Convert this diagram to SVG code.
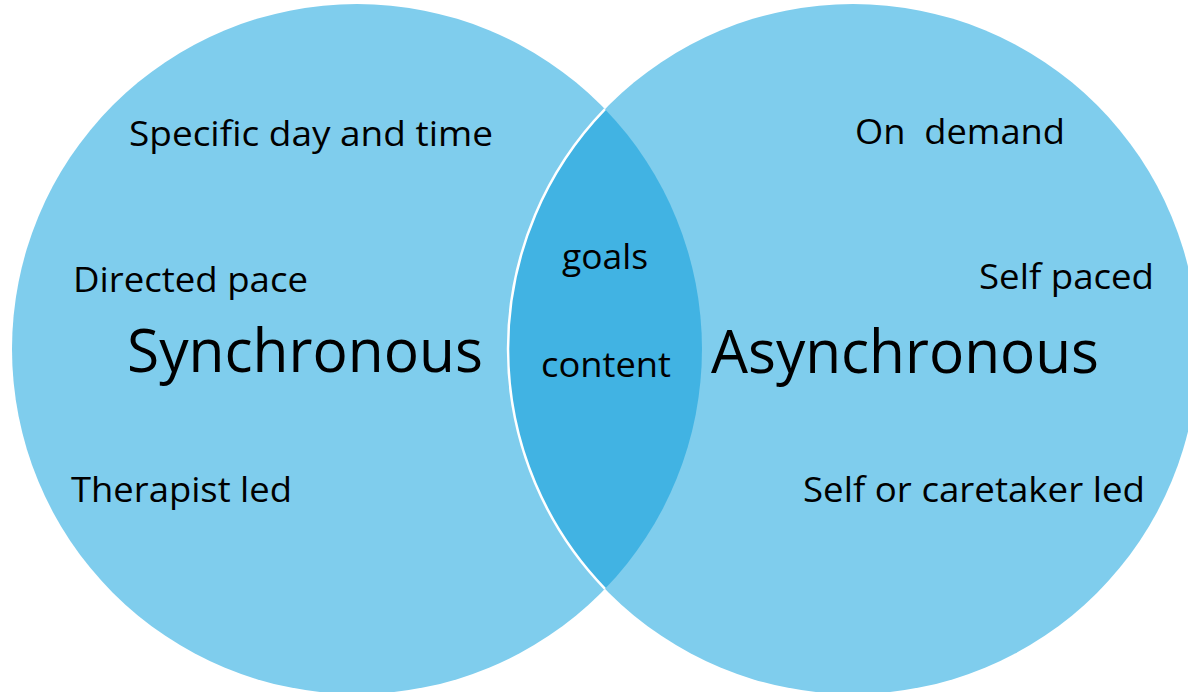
<svg xmlns="http://www.w3.org/2000/svg" width="1188" height="692" viewBox="0 0 1188 692">
<style>
text{font-family:"Open Sans","Noto Sans","Liberation Sans",sans-serif;fill:#000;}
.s{font-size:34px;}
.b{font-size:60px;}
.c{fill:#7FCDED;}
</style>
<rect width="1188" height="692" fill="#fff"/>
<g id="left-circle">
<circle class="c" cx="357" cy="349" r="345"/>
</g>
<g id="right-circle">
<circle class="c" cx="853" cy="349" r="345"/>
</g>
<g id="overlap">
<path d="M605,109.2 A345,345 0 0 1 605,588.8 A345,345 0 0 1 605,109.2 Z" fill="#41B3E3"/>
<path d="M605,588.8 A345,345 0 0 1 605,109.2" fill="none" stroke="#fff" stroke-width="2.5"/>
</g>
<g id="connectors"></g>
<g id="synchronous">
<text class="s" x="129" y="146" textLength="364" lengthAdjust="spacingAndGlyphs">Specific day and time</text>
<text class="s" x="73" y="292" textLength="235" lengthAdjust="spacingAndGlyphs">Directed pace</text>
<text class="b" x="127" y="372" textLength="356" lengthAdjust="spacingAndGlyphs">Synchronous</text>
<text class="s" x="71" y="502" textLength="221" lengthAdjust="spacingAndGlyphs">Therapist led</text>
</g>
<g id="shared">
<text class="s" x="562" y="269" textLength="86" lengthAdjust="spacingAndGlyphs">goals</text>
<text class="s" x="541" y="377" textLength="130" lengthAdjust="spacingAndGlyphs">content</text>
</g>
<g id="asynchronous">
<text class="s" x="855" y="144" textLength="210" lengthAdjust="spacingAndGlyphs" xml:space="preserve">On  demand</text>
<text class="s" x="979" y="289" textLength="175" lengthAdjust="spacingAndGlyphs">Self paced</text>
<text class="b" x="711" y="373" textLength="388" lengthAdjust="spacingAndGlyphs">Asynchronous</text>
<text class="s" x="803" y="502" textLength="342" lengthAdjust="spacingAndGlyphs">Self or caretaker led</text>
</g>
</svg>
